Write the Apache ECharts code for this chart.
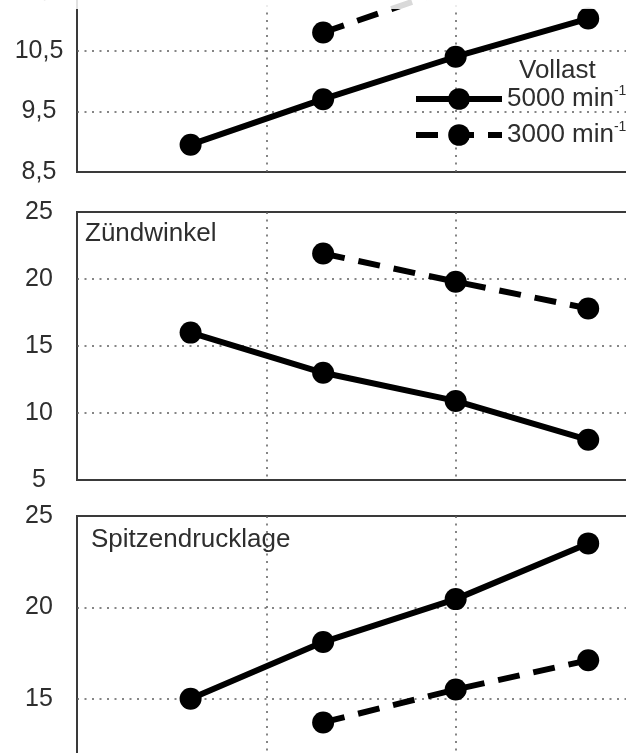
<!DOCTYPE html>
<html>
<head>
<meta charset="utf-8">
<script src="https://cdn.jsdelivr.net/npm/echarts@6/dist/echarts.min.js"></script>
<style>
  html, body { margin: 0; padding: 0; background: #fff; }
  #chart { width: 626px; height: 753px; }
</style>
</head>
<body>
<div id="chart"></div>
<script>
// ---- data ----
const xAll = [0.6, 1.3, 2.0, 2.7];
const x3000 = [1.3, 2.0, 2.7];

const top5000 = [8.95, 9.7, 10.4, 11.03];
const top3000 = [10.8, 11.55, 12.1];
const mid5000 = [16.0, 13.0, 10.9, 8.0];
const mid3000 = [21.9, 19.8, 17.8];
const bot5000 = [15.0, 18.1, 20.45, 23.5];
const bot3000 = [13.7, 15.5, 17.1];

const topTicks = [8.5, 9.5, 10.5, 11.5];
const midTicks = [5, 10, 15, 20, 25];
const botTicks = [10, 15, 20, 25];
const xTicks = [0, 1, 2, 3];

const panelTitles = ['Zündwinkel', 'Spitzendrucklage'];
const legendTitle = 'Vollast';
const seriesNames = ['5000 min', '3000 min'];
const unitSup = '-1';

// ---- layout / style ----
const FONT = '"Liberation Sans", Arial, sans-serif';
const TXT = '#2e2e2e';
const grids = [
  { left: 77, top: -10, width: 568, height: 182 },
  { left: 77, top: 212, width: 568, height: 268 },
  { left: 77, top: 516, width: 568, height: 274 }
];
const tickSets = [topTicks, midTicks, botTicks];

function zip(xs, ys) { return xs.map((x, i) => [x, ys[i]]); }

const gridLine = { show: true, showMinLine: false, showMaxLine: false,
  lineStyle: { color: '#5e5e5e', width: 1.5, type: [2, 5.5] } };

const option = {
  animation: false,
  backgroundColor: '#fff',
  textStyle: { fontFamily: FONT },
  grid: grids.map(g => Object.assign({ show: true, borderColor: '#3a3a3a', borderWidth: 2,
    backgroundColor: 'transparent', containLabel: false, outerBoundsMode: 'none' }, g)),
  xAxis: grids.map((g, i) => ({
    type: 'value', gridIndex: i,
    min: xTicks[0], max: xTicks[xTicks.length - 1], interval: xTicks[1] - xTicks[0],
    axisLine: { show: false }, axisTick: { show: false }, axisLabel: { show: false },
    splitLine: gridLine
  })),
  yAxis: tickSets.map((t, i) => ({
    type: 'value', gridIndex: i,
    min: t[0], max: t[t.length - 1], interval: t[1] - t[0],
    axisLine: { show: false }, axisTick: { show: false },
    axisLabel: { show: true, fontSize: 25, color: TXT, fontFamily: FONT, align: 'center', margin: 38,
      formatter: v => String(v).replace('.', ',') },
    splitLine: gridLine
  })),
  title: [
    { text: panelTitles[0], left: 85, top: 221, padding: 0,
      textStyle: { fontSize: 26, fontWeight: 'normal', color: TXT, fontFamily: FONT } },
    { text: panelTitles[1], left: 91, top: 527, padding: 0,
      textStyle: { fontSize: 26, fontWeight: 'normal', color: TXT, fontFamily: FONT } },
    { text: legendTitle, left: 519, top: 58, padding: 0,
      textStyle: { fontSize: 26, fontWeight: 'normal', color: TXT, fontFamily: FONT } }
  ],
  legend: {
    orient: 'vertical', left: 413, top: 84, padding: 0,
    itemWidth: 86, itemHeight: 27, itemGap: 6,
    data: seriesNames,
    lineStyle: { width: 6 },
    formatter: n => n + '{sup|' + unitSup + '}',
    textStyle: { fontSize: 26, color: TXT, fontFamily: FONT, lineHeight: 30,
      rich: { sup: { fontSize: 14, color: TXT, fontFamily: FONT, verticalAlign: 'top', lineHeight: 30, padding: [0, 0, 12, 0] } } }
  },
  series: [
    [xAll, top5000, 0, 0], [x3000, top3000, 1, 0],
    [xAll, mid5000, 0, 1], [x3000, mid3000, 1, 1],
    [xAll, bot5000, 0, 2], [x3000, bot3000, 1, 2]
  ].map(([xs, ys, k, gi]) => ({
    type: 'line', name: seriesNames[k],
    xAxisIndex: gi, yAxisIndex: gi,
    data: zip(xs, ys),
    symbol: 'circle', symbolSize: 22, showSymbol: true,
    itemStyle: { color: '#000' },
    lineStyle: { color: '#000', width: 6, type: k === 0 ? 'solid' : [22, 14] },
    clip: true, z: 3
  })),
  graphic: [
    { type: 'rect', shape: { x: 0, y: 0, width: 626, height: 9 }, style: { fill: '#fff', opacity: 0.85 }, z: 100 }
  ]
};

const chart = echarts.init(document.getElementById('chart'), null, { renderer: 'canvas' });
chart.setOption(option);
</script>
</body>
</html>
